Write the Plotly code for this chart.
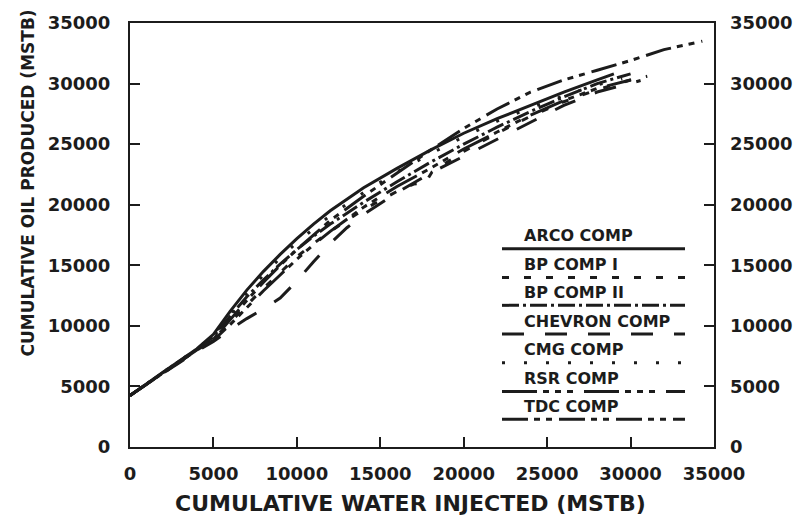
import plotly.graph_objects as go

# Cumulative water injected (MSTB) vs cumulative oil produced (MSTB), per company
ARCO_X = [0, 1000, 2000, 3000, 4000, 5000, 6000, 7000, 8000, 9000, 10000, 11000, 12000,
          14000, 16000, 18000, 20000, 22000, 24000, 26000, 28000, 29000]
ARCO_Y = [4250, 5250, 6200, 7150, 8100, 9300, 11200, 12950, 14500, 15900, 17200, 18400, 19500,
          21400, 23000, 24500, 25900, 27100, 28200, 29300, 30300, 30800]

BP1_X = [0, 1000, 2000, 3000, 4000, 5000, 6000, 7000, 8000, 9000, 10000, 11000, 12000,
         14000, 16000, 17000, 17700, 18100, 20000, 22000, 24000, 26000, 28000, 30000, 31000]
BP1_Y = [4250, 5200, 6150, 7100, 8000, 8900, 10300, 11700, 13100, 14400, 15700, 16800, 17800,
         19600, 21100, 21700, 21800, 22700, 24400, 25900, 27300, 28500, 29500, 30300, 30600]

BP2_X = [0, 1000, 2000, 3000, 4000, 5000, 6000, 7000, 8000, 9000, 10000, 11000, 12000,
         14000, 16000, 18000, 20000, 22000, 24000, 26000, 28000, 30000]
BP2_Y = [4250, 5220, 6180, 7120, 8050, 9100, 10800, 12400, 13800, 15100, 16300, 17400, 18400,
         20200, 21900, 23500, 25000, 26400, 27700, 28900, 30000, 30800]

CHEV_X = [0, 1000, 2000, 3000, 4000, 5000, 6000, 7000, 8000, 9000, 10000, 11000, 12000, 13000,
          14000, 16000, 18000, 20000, 22000, 24000, 26000, 28000, 30000, 30600]
CHEV_Y = [4250, 5200, 6100, 7000, 7900, 8700, 9700, 10600, 11400, 12300, 13700, 15300, 16800, 18100,
          19200, 21000, 22600, 24000, 25400, 26800, 28200, 29300, 30000, 30250]

CMG_X = [0, 1000, 2000, 3000, 4000, 5000, 6000, 7000, 8000, 9000, 10000, 11000, 12000,
         14000, 16000, 18000, 20000, 22000, 24000, 26000, 28000, 29500]
CMG_Y = [4250, 5240, 6200, 7150, 8100, 9200, 11000, 12700, 14200, 15600, 16900, 18000, 19100,
         21000, 22700, 24200, 25600, 26900, 28000, 29000, 29900, 30400]

RSR_X = [0, 1000, 2000, 3000, 4000, 5000, 6000, 7000, 8000, 9000, 10000, 11000, 12000,
         14000, 16000, 18000, 20000, 22000, 24000, 26000, 28000, 30000]
RSR_Y = [4250, 5200, 6150, 7100, 8000, 8800, 10100, 11500, 12900, 14200, 15500, 16700, 17800,
         19800, 21500, 23000, 24600, 26000, 27400, 28600, 29600, 30300]

TDC_X = [0, 1000, 2000, 3000, 4000, 5000, 6000, 7000, 8000, 9000, 10000, 11000, 12000,
         14000, 16000, 18000, 20000, 22000, 24000, 26000, 28000, 30000, 32000, 34300]
TDC_Y = [4250, 5200, 6150, 7100, 8000, 8900, 10500, 12100, 13600, 15000, 16300, 17500, 18700,
         20700, 22600, 24500, 26300, 27900, 29300, 30300, 31100, 31900, 32800, 33500]

SERIES_NAMES = ["ARCO COMP", "BP COMP I", "BP COMP II", "CHEVRON COMP",
                "CMG COMP", "RSR COMP", "TDC COMP"]
AXIS_TICKS = [0, 5000, 10000, 15000, 20000, 25000, 30000, 35000]

DASHES = {
    "ARCO COMP": "solid",
    "BP COMP I": "7px,15px",
    "BP COMP II": "17px,4px,3px,4px",
    "CHEVRON COMP": "22px,21px",
    "CMG COMP": "3px,19px",
    "RSR COMP": "35px,6px,6px,6px,6px,6px,6px,11px",
    "TDC COMP": "26px,6px,6px,6px,6px,7px",
}
DATA = {
    "ARCO COMP": (ARCO_X, ARCO_Y),
    "BP COMP I": (BP1_X, BP1_Y),
    "BP COMP II": (BP2_X, BP2_Y),
    "CHEVRON COMP": (CHEV_X, CHEV_Y),
    "CMG COMP": (CMG_X, CMG_Y),
    "RSR COMP": (RSR_X, RSR_Y),
    "TDC COMP": (TDC_X, TDC_Y),
}

INK = "#1c1c1c"
FONT = "DejaVu Sans"

fig = go.Figure()
for name in SERIES_NAMES:
    xs, ys = DATA[name]
    fig.add_trace(go.Scatter(
        x=xs, y=ys, mode="lines", name=name, showlegend=False,
        line=dict(color=INK, width=3, dash=DASHES[name]),
    ))

# invisible trace carrying the right-hand y axis labels
fig.add_trace(go.Scatter(x=[0], y=[0], yaxis="y2", mode="markers",
                         marker=dict(opacity=0), showlegend=False, hoverinfo="skip"))

W, H = 809, 518
L, R, T, B = 130, 95, 19, 71
pw, ph = W - L - R, H - T - B

tickfont = dict(family=FONT, size=18, color=INK, weight="bold")

fig.update_layout(
    width=W, height=H,
    margin=dict(l=L, r=R, t=T, b=B),
    paper_bgcolor="white", plot_bgcolor="white",
    xaxis=dict(range=[0, 35000], tickvals=AXIS_TICKS, ticktext=[str(v) for v in AXIS_TICKS],
               ticks="inside", ticklen=10, tickwidth=1.5, tickcolor=INK,
               showline=True, linecolor=INK, linewidth=2, mirror=True,
               showgrid=False, zeroline=False, tickfont=tickfont, ticklabelstandoff=9),
    yaxis=dict(range=[0, 35000], tickvals=AXIS_TICKS, ticktext=[str(v) for v in AXIS_TICKS],
               ticks="inside", ticklen=10, tickwidth=1.5, tickcolor=INK,
               showline=True, linecolor=INK, linewidth=2, mirror="allticks",
               showgrid=False, zeroline=False, tickfont=tickfont, ticklabelstandoff=14),
    yaxis2=dict(range=[0, 35000], tickvals=AXIS_TICKS, ticktext=[str(v) for v in AXIS_TICKS],
                overlaying="y", side="right", ticks="", showline=False,
                showgrid=False, zeroline=False, tickfont=tickfont, ticklabelstandoff=15),
)


def px_x(p):
    return (p - L) / pw


def px_y(p):
    return (H - B - p) / ph


# Axis titles
fig.add_annotation(text="CUMULATIVE WATER INJECTED (MSTB)", xref="paper", yref="paper",
                   x=px_x(410), y=px_y(504), showarrow=False, xanchor="center", yanchor="middle",
                   font=dict(family=FONT, size=22, color=INK, weight="bold"))
fig.add_annotation(text="CUMULATIVE OIL PRODUCED (MSTB)", xref="paper", yref="paper",
                   x=px_x(28), y=px_y(181), showarrow=False, xanchor="center", yanchor="middle",
                   textangle=-90,
                   font=dict(family=FONT, size=17, color=INK, weight="bold"))

# Key: label above a sample of each line style
key_line_y = [247, 276, 304, 333, 362, 391, 419]
for name, ly in zip(SERIES_NAMES, key_line_y):
    fig.add_annotation(text=name, xref="paper", yref="paper",
                       x=px_x(522), y=px_y(ly - 13), showarrow=False,
                       xanchor="left", yanchor="middle",
                       font=dict(family=FONT, size=16, color=INK, weight="bold"))
    fig.add_shape(type="line", xref="paper", yref="paper",
                  x0=px_x(502), x1=px_x(685), y0=px_y(ly), y1=px_y(ly),
                  line=dict(color=INK, width=3, dash=DASHES[name]))

fig.write_html("out.html")
